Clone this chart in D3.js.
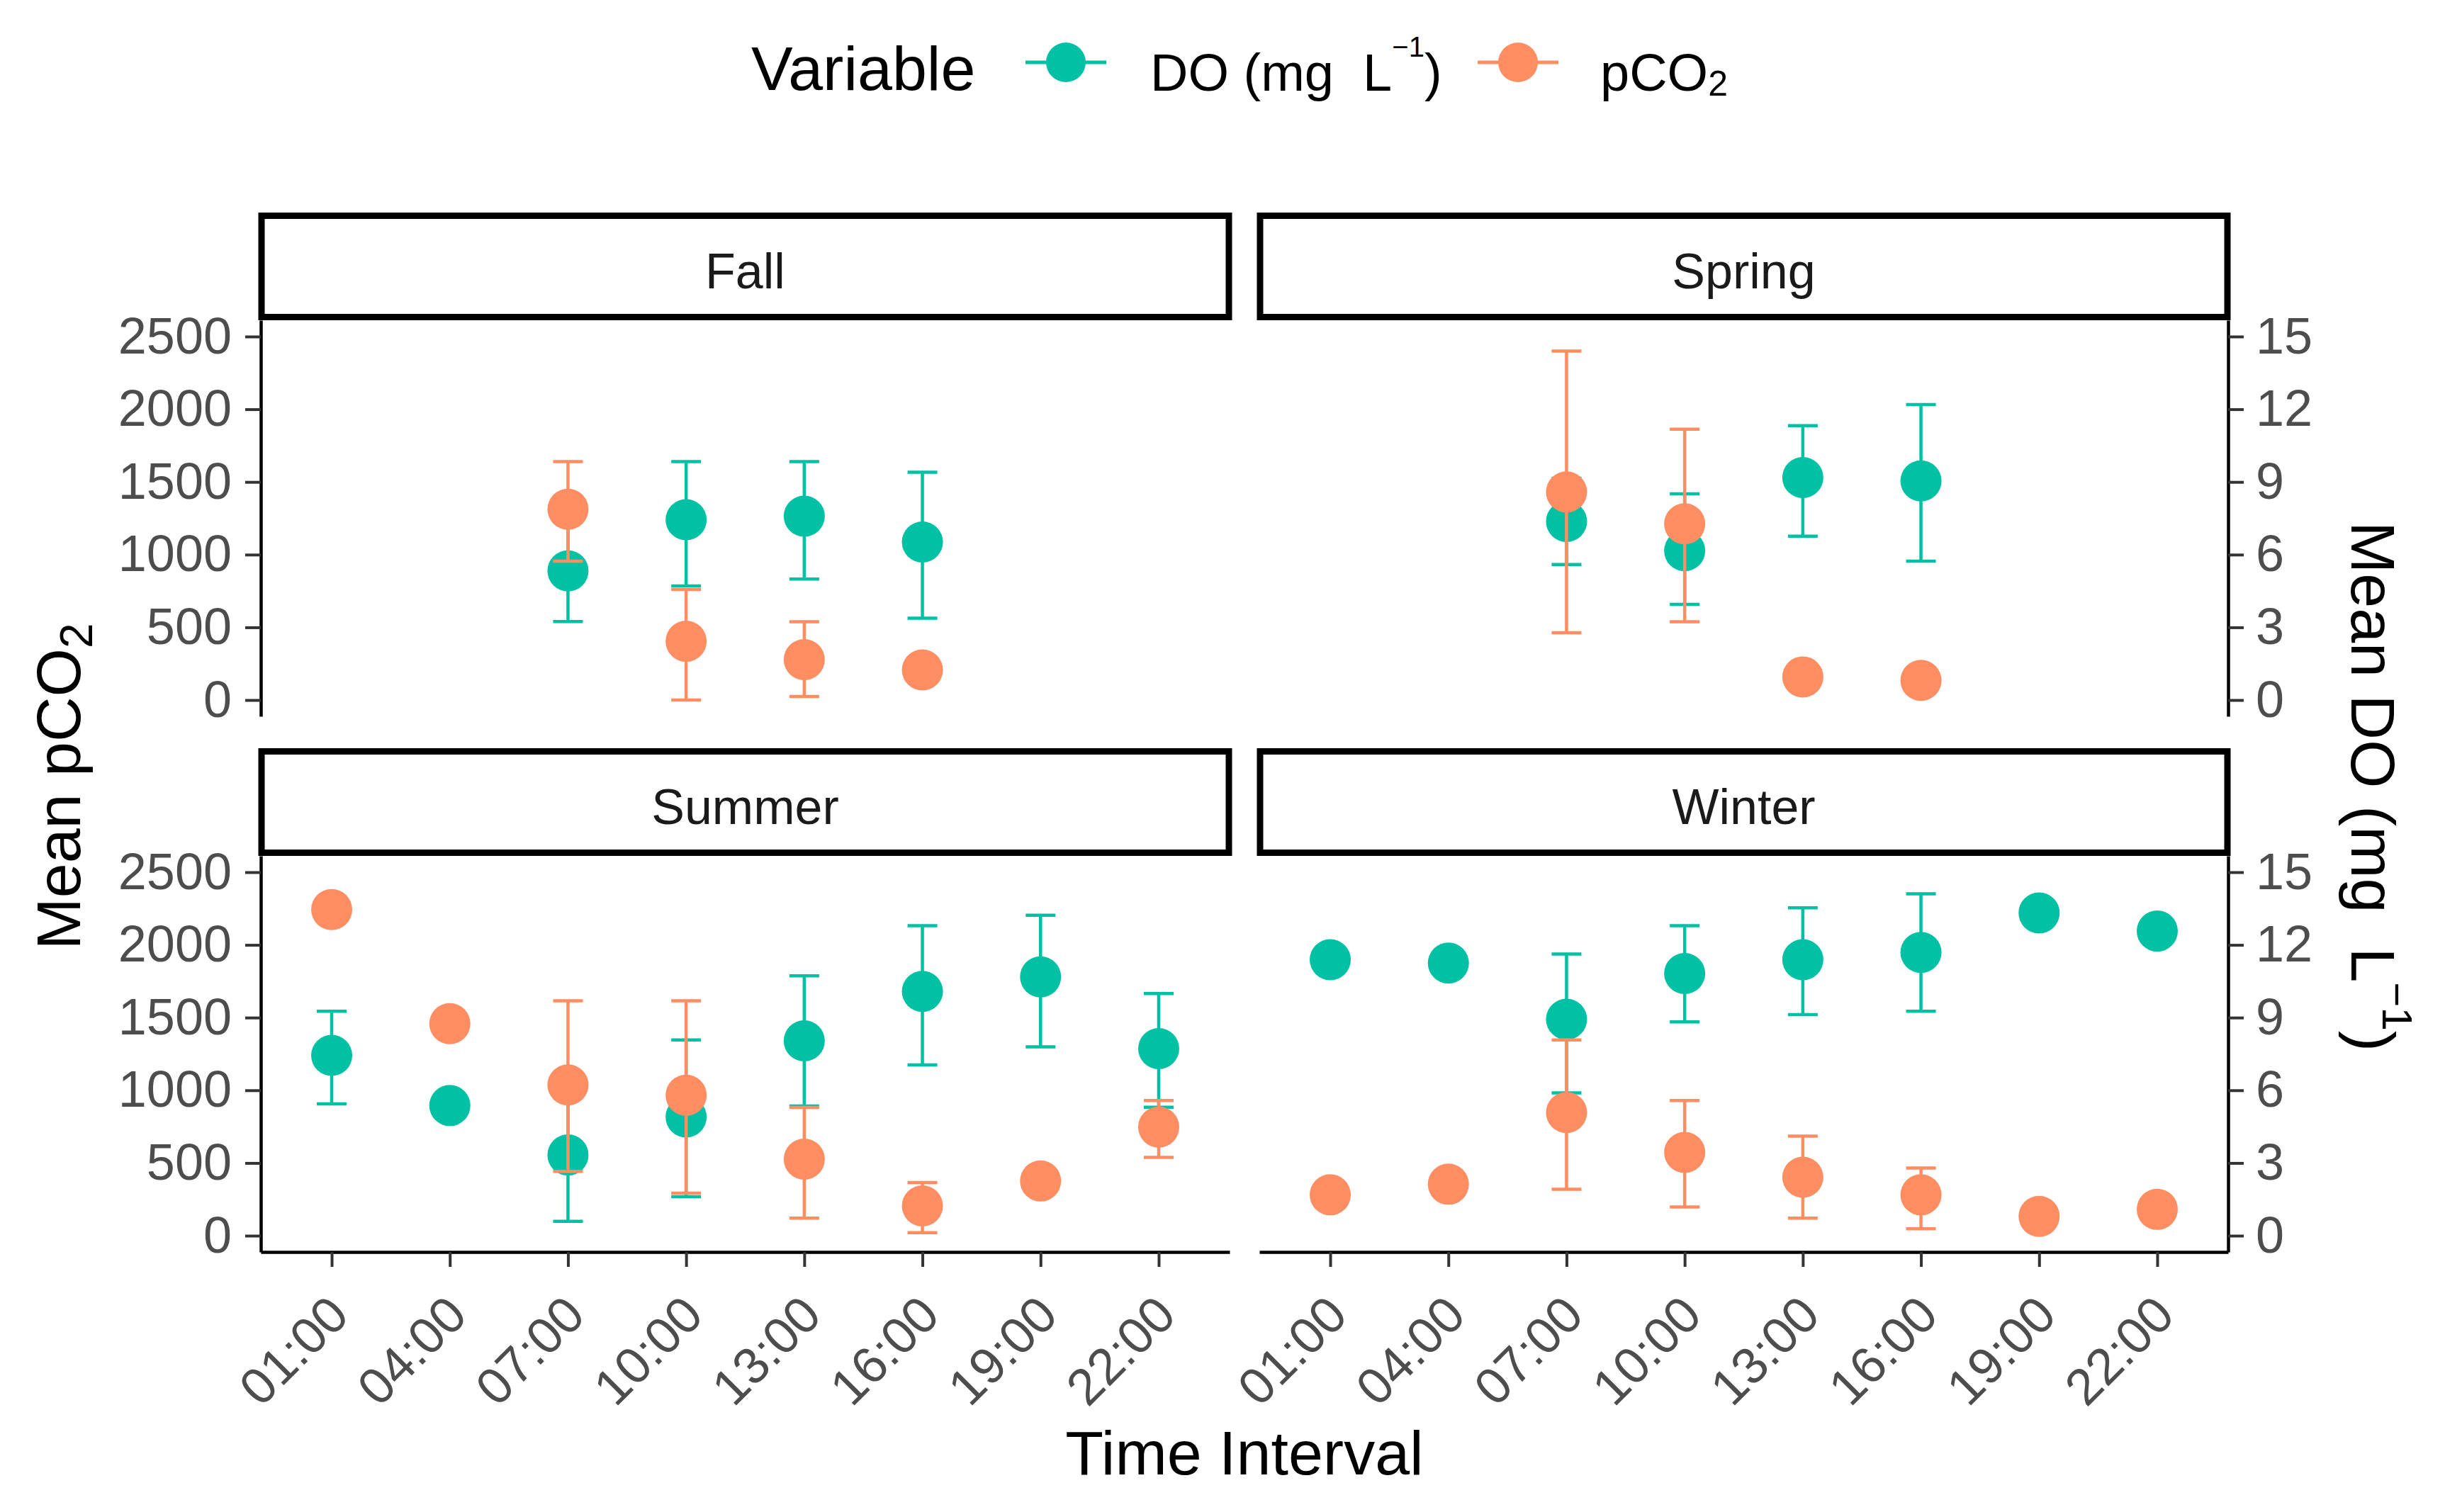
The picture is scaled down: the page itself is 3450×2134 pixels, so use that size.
<!DOCTYPE html>
<html><head><meta charset="utf-8">
<script src="https://cdn.jsdelivr.net/npm/d3@7"></script>
<style>
body{margin:0;background:#fff}
text{font-family:"Liberation Sans",Arial,Helvetica,sans-serif;white-space:pre}
</style>
</head><body>
<svg id="chart" width="3450" height="2134" xmlns="http://www.w3.org/2000/svg"></svg>
<script>
// ---------------- data ----------------
const times = ["01:00","04:00","07:00","10:00","13:00","16:00","19:00","22:00"];
const seasons = ["Fall","Spring","Summer","Winter"];
const pco2Ticks = [0,500,1000,1500,2000,2500];
const doTicks = [0,3,6,9,12,15];

// Fall
const fallDO       = [null,null,5.33,7.44,7.59,6.52,null,null];
const fallDOLow    = [null,null,3.24,4.71,4.99,3.38,null,null];
const fallDOHigh   = [null,null,7.43,9.84,9.84,9.40,null,null];
const fallCO2      = [null,null,1312,404,278,207,null,null];
const fallCO2Low   = [null,null,955,0,24,null,null,null];
const fallCO2High  = [null,null,1640,760,539,null,null,null];
// Spring
const springDO      = [null,null,7.37,6.16,9.18,9.04,null,null];
const springDOLow   = [null,null,5.59,3.95,6.76,5.73,null,null];
const springDOHigh  = [null,null,9.15,8.51,11.32,12.19,null,null];
const springCO2     = [null,null,1431,1212,159,135,null,null];
const springCO2Low  = [null,null,463,539,null,null,null,null];
const springCO2High = [null,null,2400,1863,null,null,null,null];
// Summer
const summerDO      = [7.44,5.37,3.33,4.90,8.04,10.08,10.68,7.72];
const summerDOLow   = [5.44,null,0.59,1.61,5.35,7.05,7.79,5.30];
const summerDOHigh  = [9.26,null,6.06,8.08,10.72,12.79,13.22,9.99];
const summerCO2     = [2243,1458,1037,966,526,205,376,747];
const summerCO2Low  = [null,null,442,293,121,21,null,538];
const summerCO2High = [null,null,1615,1615,882,366,null,930];
// Winter
const winterDO      = [11.39,11.25,8.93,10.82,11.39,11.69,13.32,12.57];
const winterDOLow   = [null,null,5.89,8.82,9.12,9.26,null,null];
const winterDOHigh  = [null,null,11.62,12.79,13.53,14.11,null,null];
const winterCO2     = [281,354,847,573,402,281,133,181];
const winterCO2Low  = [null,null,319,197,121,48,null,null];
const winterCO2High = [null,null,1346,930,685,466,null,null];

const seasonTable = {
  Fall:   {DO:fallDO,   DOLo:fallDOLow,   DOHi:fallDOHigh,   CO2:fallCO2,   CO2Lo:fallCO2Low,   CO2Hi:fallCO2High},
  Spring: {DO:springDO, DOLo:springDOLow, DOHi:springDOHigh, CO2:springCO2, CO2Lo:springCO2Low, CO2Hi:springCO2High},
  Summer: {DO:summerDO, DOLo:summerDOLow, DOHi:summerDOHigh, CO2:summerCO2, CO2Lo:summerCO2Low, CO2Hi:summerCO2High},
  Winter: {DO:winterDO, DOLo:winterDOLow, DOHi:winterDOHigh, CO2:winterCO2, CO2Lo:winterCO2Low, CO2Hi:winterCO2High}
};

// ---------------- layout / style ----------------
const COL_DO = "#00C1A3", COL_CO2 = "#FF8D62";
const FONT = '"Liberation Sans",Arial,Helvetica,sans-serif';
const colLeft = [368, 1777], panelW = 1367;
const rowTop = [452, 1208], panelH = 559;
const stripH = 152;
const yDomain = [-112, 2612];
const ratio = 15/2500;          // secondary axis: DO = pCO2 * ratio
const R = 29, CAP = 21, EBW = 4.5;

const svg = d3.select("#chart");
svg.append("rect").attr("width",3450).attr("height",2134).attr("fill","#fff");

seasons.forEach((s, i) => {
  const col = i % 2, row = Math.floor(i / 2);
  const L = colLeft[col], T = rowTop[row], B = T + panelH, Rt = L + panelW;
  const d = seasonTable[s];
  const x = d3.scalePoint().domain(times).range([L, Rt]).padding(0.6);
  const y = d3.scaleLinear().domain(yDomain).range([B, T]);
  const yDO = d3.scaleLinear().domain(yDomain.map(v => v*ratio)).range([B, T]);
  const g = svg.append("g");

  // strip
  g.append("rect").attr("x", L + 1).attr("y", T - stripH + 4.5).attr("width", panelW - 2).attr("height", stripH - 9)
    .attr("fill", "#fff").attr("stroke", "#000").attr("stroke-width", 9);
  g.append("text").attr("x", L + panelW/2).attr("y", T - stripH/2 + 31)
    .attr("text-anchor","middle").attr("font-size",70).attr("fill","#1A1A1A").text(s);

  // axes
  const styleAxis = (ax) => {
    ax.select(".domain").attr("stroke","#000").attr("stroke-width",4.5);
    ax.selectAll(".tick line").attr("stroke","#333").attr("stroke-width",4);
    ax.selectAll(".tick text").attr("fill","#4D4D4D").attr("font-size",72).attr("font-family",FONT);
  };
  if (col === 0) {
    const ax = g.append("g").attr("transform",`translate(${L},0)`)
      .call(d3.axisLeft(y).tickValues(pco2Ticks).tickFormat(d3.format("d"))
        .tickSize(22).tickSizeOuter(0).tickPadding(19));
    styleAxis(ax);
  } else {
    const ax = g.append("g").attr("transform",`translate(${Rt},0)`)
      .call(d3.axisRight(yDO).tickValues(doTicks).tickFormat(d3.format("d"))
        .tickSize(22).tickSizeOuter(0).tickPadding(17));
    styleAxis(ax);
  }
  if (row === 1) {
    const ax = g.append("g").attr("transform",`translate(0,${B})`)
      .call(d3.axisBottom(x).tickSize(21).tickSizeOuter(0));
    styleAxis(ax);
    ax.selectAll(".tick text")
      .attr("x",0).attr("y",0).attr("dy",0)
      .attr("text-anchor","end")
      .attr("transform","translate(27,93) rotate(-45)");
  }

  const idx = d3.range(times.length);
  const ebar = (sel, lo, hi, yS, color) => {
    const rows = idx.filter(k => lo[k] != null && hi[k] != null);
    const eg = sel.append("g").attr("stroke", color).attr("stroke-width", EBW).attr("fill","none");
    eg.selectAll("line.v").data(rows).join("line").attr("class","v")
      .attr("x1", k => x(times[k])).attr("x2", k => x(times[k]))
      .attr("y1", k => yS(lo[k])).attr("y2", k => yS(hi[k]));
    eg.selectAll("line.lo").data(rows).join("line").attr("class","lo")
      .attr("x1", k => x(times[k]) - CAP).attr("x2", k => x(times[k]) + CAP)
      .attr("y1", k => yS(lo[k])).attr("y2", k => yS(lo[k]));
    eg.selectAll("line.hi").data(rows).join("line").attr("class","hi")
      .attr("x1", k => x(times[k]) - CAP).attr("x2", k => x(times[k]) + CAP)
      .attr("y1", k => yS(hi[k])).attr("y2", k => yS(hi[k]));
  };
  const pts = (sel, mean, yS, color) => {
    sel.append("g").selectAll("circle").data(idx.filter(k => mean[k] != null)).join("circle")
      .attr("cx", k => x(times[k])).attr("cy", k => yS(mean[k])).attr("r", R).attr("fill", color);
  };
  ebar(g, d.DOLo, d.DOHi, yDO, COL_DO);
  pts(g, d.DO, yDO, COL_DO);
  ebar(g, d.CO2Lo, d.CO2Hi, y, COL_CO2);
  pts(g, d.CO2, y, COL_CO2);
});

// axis titles
svg.append("text").attr("transform","translate(1756,2081)").attr("text-anchor","middle")
  .attr("font-size",88).attr("fill","#000").text("Time Interval");

const lt = svg.append("text").attr("transform","translate(113,1110) rotate(-90)")
  .attr("text-anchor","middle").attr("font-size",88).attr("fill","#000");
lt.append("tspan").text("Mean pCO");
lt.append("tspan").attr("font-size",64).attr("dy",17).text("2");

const rt = svg.append("text").attr("transform","translate(3318,1110) rotate(90)")
  .attr("text-anchor","middle").attr("font-size",88).attr("fill","#000");
rt.append("tspan").text("Mean DO (mg  L");
rt.append("tspan").attr("font-size",60).attr("dy",-44).text("\u22121");
rt.append("tspan").attr("dy",44).text(")");

// legend
const lg = svg.append("g");
lg.append("text").attr("x",1060).attr("y",127).attr("font-size",88).attr("fill","#000").text("Variable");
const keys = [{c:COL_DO, cx:1504}, {c:COL_CO2, cx:2142}];
keys.forEach(k => {
  lg.append("line").attr("x1",k.cx-57).attr("x2",k.cx+57).attr("y1",88).attr("y2",88)
    .attr("stroke",k.c).attr("stroke-width",5);
  lg.append("circle").attr("cx",k.cx).attr("cy",88).attr("r",28).attr("fill",k.c);
});
const l1 = lg.append("text").attr("x",1623).attr("y",128).attr("font-size",74).attr("fill","#000");
l1.append("tspan").text("DO (mg  L");
l1.append("tspan").attr("font-size",40).attr("dy",-48).text("\u22121");
l1.append("tspan").attr("dy",48).text(")");
const l2 = lg.append("text").attr("x",2258).attr("y",128).attr("font-size",74).attr("fill","#000");
l2.append("tspan").text("pCO");
l2.append("tspan").attr("font-size",50).attr("dy",7).text("2");
</script>
</body></html>
